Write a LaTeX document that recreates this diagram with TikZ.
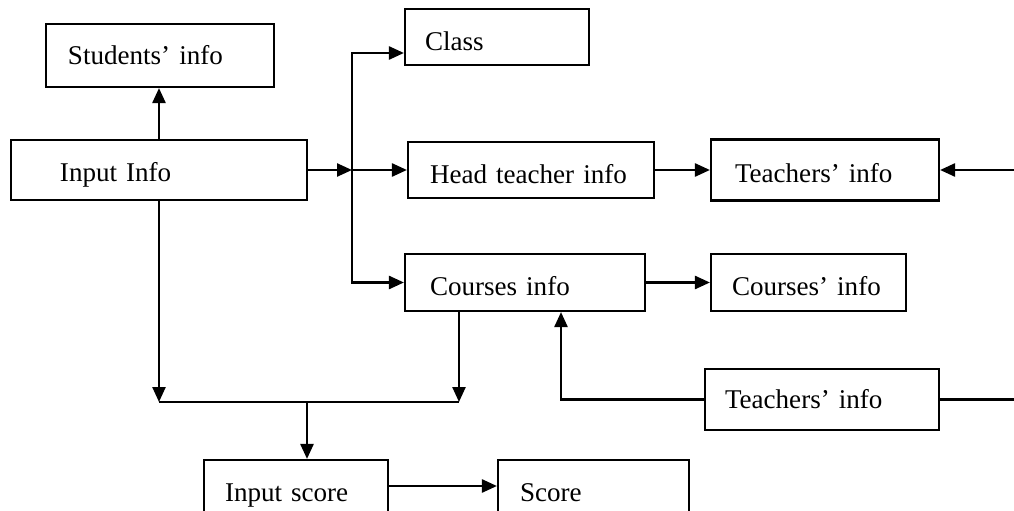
\documentclass[tikz,border=0pt]{standalone}
\usepackage{fontspec}
\setmainfont{Liberation Serif}
\usetikzlibrary{arrows.meta, positioning, calc}

\begin{document}
\begin{tikzpicture}[
		every node/.style={font=\fontsize{15.4}{18}\selectfont},
		box/.style 2 args={draw, line width=1.2pt, minimum height=1.2cm, minimum width=#1cm, text width=#1cm, inner xsep=0pt, inner ysep=0pt, text height=14.5pt, text depth=0pt, align=left, execute at begin node={\hspace*{#2cm}}},
		arr/.style={line width=1.4pt, -{Triangle[length=3mm, width=2.6mm]}},
		link/.style={line width=1.4pt}
		]
		\useasboundingbox (0,0) rectangle (20.28,-10.22);
		\clip (0,0) rectangle (20.28,-10.22);
		
		% Boxes
		\node[box={4.56}{0.44}, minimum height=1.26cm, text height=10.8pt] at (3.2,-1.11) (students) {Students’ info};
		\node[box={3.68}{0.4}, minimum height=1.12cm, text height=15.3pt] at (9.94,-0.74) (class) {Class};
		\node[box={5.92}{0.98}, text height=13.6pt] at (3.18,-3.4) (input) {Input Info};
		\node[box={4.92}{0.44}, minimum height=1.12cm, text height=15.9pt] at (10.62,-3.4) (head) {Head teacher info};
		\node[box={4.56}{0.48}, minimum height=1.22cm] at (16.5,-3.4) (teachA) {Teachers’ info};
		\node[box={4.8}{0.5}, minimum height=1.14cm] at (10.5,-5.65) (courses) {Courses info};
		\node[box={3.9}{0.42}, minimum height=1.14cm] at (16.17,-5.65) (coursesB) {Courses’ info};
		\node[box={4.68}{0.4}, minimum height=1.22cm, text height=10.2pt] at (16.44,-7.99) (teachB) {Teachers’ info};
		\node[box={3.68}{0.42}, text height=13pt] at (5.92,-9.8) (inscore) {Input score};
		\node[box={3.82}{0.44}, text height=13pt] at (11.87,-9.8) (score) {Score};
		
		% Junctions and edges
		\coordinate (bus) at (7.04,-3.4);
		\coordinate (classin) at ($(class.west)+(0,-0.32)$);
		\coordinate (merge) at (6.14,-8.04);
		\coordinate (edgeA) at (20.4,-3.4);
		\coordinate (edgeB) at (20.4,-7.99);
		
		% Connectors
		\draw[arr] (input.north) -- (input.north |- students.south);
		\draw[arr] (input.east) -- (bus);
		\draw[arr] (bus) |- (classin);
		\draw[arr] (bus) -- (head.west);
		\draw[arr] (bus) |- (courses.west);
		\draw[arr] (head.east) -- (teachA.west);
		\draw[arr] (edgeA) -- (teachA.east);
		\draw[arr] (courses.east) -- (coursesB.west);
		\draw[arr] (teachB.west) -| ([xshift=0.72cm]courses.south);
		\draw[link] (teachB.east) -- (edgeB);
		\draw[arr] (input.south) -- (input.south |- merge);
		\draw[arr] ([xshift=-1.32cm]courses.south) coordinate (cdown) -- (cdown |- merge);
		\draw[link] (input.south |- merge) -- (cdown |- merge);
		\draw[arr] (merge) -- (merge |- inscore.north);
		\draw[arr] (inscore.east |- 0,-9.72) -- (score.west |- 0,-9.72);
		
	\end{tikzpicture}
\end{document}
